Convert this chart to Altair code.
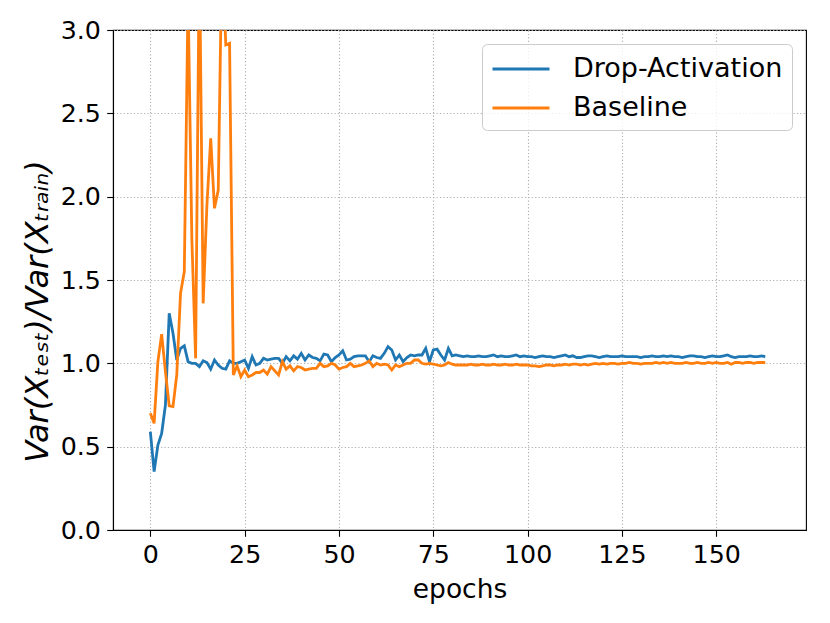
import altair as alt
import pandas as pd

series_names = ["Drop-Activation", "Baseline"]
series_colors = ["#1f77b4", "#ff7f0e"]

drop_activation = [
    0.59, 0.35, 0.51, 0.58, 0.75, 1.30, 1.18, 1.02, 1.09, 1.105,
    1.01, 1.00, 1.00, 0.98, 1.015, 1.005, 0.965, 1.02, 0.99, 0.97,
    0.965, 1.015, 1.00, 1.00, 1.01, 1.02, 0.97, 1.04, 0.99, 1.00,
    1.03, 1.02, 1.025, 1.03, 1.03, 1.00, 1.04, 1.015, 1.045, 1.025,
    1.06, 1.02, 1.05, 1.035, 1.03, 1.015, 1.055, 1.05, 1.01, 1.035,
    1.05, 1.075, 1.02, 1.025, 1.04, 1.045, 1.045, 1.045, 1.01, 1.045,
    1.035, 1.03, 1.06, 1.10, 1.08, 1.02, 1.05, 1.01, 1.035, 1.05,
    1.045, 1.05, 1.05, 1.09, 1.01, 1.08, 1.085, 1.05, 1.02, 1.09,
    1.045, 1.05, 1.045, 1.04, 1.045, 1.04, 1.04, 1.045, 1.04, 1.04,
    1.045, 1.05, 1.04, 1.045, 1.04, 1.04, 1.045, 1.05, 1.04, 1.045,
    1.04, 1.04, 1.035, 1.04, 1.045, 1.04, 1.04, 1.035, 1.04, 1.045,
    1.05, 1.04, 1.045, 1.035, 1.035, 1.04, 1.045, 1.045, 1.04, 1.035,
    1.04, 1.045, 1.04, 1.04, 1.04, 1.045, 1.04, 1.04, 1.04, 1.04,
    1.035, 1.04, 1.04, 1.045, 1.04, 1.04, 1.045, 1.04, 1.045, 1.04,
    1.04, 1.035, 1.04, 1.045, 1.045, 1.04, 1.04, 1.035, 1.04, 1.045,
    1.04, 1.04, 1.045, 1.05, 1.04, 1.035, 1.04, 1.04, 1.04, 1.045,
    1.04, 1.04, 1.045, 1.04,
]

baseline = [
    0.70, 0.64, 1.01, 1.175, 0.95, 0.745, 0.74, 0.93, 1.42, 1.55,
    3.20, 1.75, 1.03, 3.50, 1.36, 1.95, 2.35, 1.93, 2.04, 3.50,
    2.91, 2.92, 0.93, 0.985, 0.92, 0.96, 0.92, 0.93, 0.945, 0.945,
    0.96, 0.935, 0.98, 0.955, 0.93, 1.01, 0.965, 0.985, 0.955, 0.98,
    0.975, 0.96, 0.965, 0.97, 0.97, 1.00, 0.98, 0.985, 1.00, 0.99,
    0.965, 0.975, 0.98, 1.00, 0.98, 0.985, 0.99, 1.00, 1.015, 0.98,
    1.00, 0.99, 0.995, 0.99, 0.96, 0.99, 0.98, 0.99, 1.00, 1.00,
    1.02, 1.02, 1.00, 0.995, 1.00, 0.995, 0.99, 0.985, 0.99, 1.005,
    0.995, 0.99, 0.99, 0.99, 0.99, 0.995, 0.99, 0.99, 0.995, 0.99,
    0.99, 0.995, 0.99, 0.99, 0.995, 0.99, 0.99, 0.995, 0.99, 0.99,
    0.99, 0.985, 0.985, 0.98, 0.985, 0.99, 0.99, 0.985, 0.99, 0.99,
    0.995, 0.99, 0.995, 0.995, 0.99, 0.995, 0.99, 0.995, 1.00, 0.995,
    1.00, 0.995, 1.00, 1.00, 0.995, 1.00, 1.00, 1.005, 1.00, 1.00,
    0.995, 1.00, 1.00, 1.00, 1.005, 1.00, 1.005, 1.00, 1.005, 1.00,
    1.00, 1.00, 1.005, 1.00, 1.00, 1.005, 1.00, 1.00, 1.005, 1.00,
    1.005, 1.00, 1.00, 1.005, 0.995, 1.005, 1.005, 1.00, 1.005, 1.005,
    1.00, 1.005, 1.005, 1.005,
]

x_ticks = [0, 25, 50, 75, 100, 125, 150]
y_ticks = [0.0, 0.5, 1.0, 1.5, 2.0, 2.5, 3.0]

rows = []
for name, vals in zip(series_names, [drop_activation, baseline]):
    for i, v in enumerate(vals):
        rows.append({"epoch": i, "value": v, "series": name})
df = pd.DataFrame(rows)

FONT = "DejaVu Sans"

chart = alt.Chart(df).mark_line(strokeWidth=2.8, clip=True).encode(
    x=alt.X(
        "epoch:Q",
        scale=alt.Scale(domain=[-9.9, 173.8], nice=False, zero=False),
        axis=alt.Axis(
            values=x_ticks, format="d", title="epochs", grid=True,
            labelPadding=6.5, titleY=67, titleBaseline="alphabetic",
        ),
    ),
    y=alt.Y(
        "value:Q",
        scale=alt.Scale(domain=[0, 3], nice=False),
        axis=alt.Axis(
            values=y_ticks, format=".1f", title="Var(Xₜₑₛₜ)/Var(Xₜᵣₐᵢₙ)", grid=True,
            labelPadding=6.3, titleAngle=270, titleX=-66, titleY=281,
            titleBaseline="alphabetic", titleAlign="center",
            titleFontStyle="italic", titleFontSize=32,
        ),
    ),
    color=alt.Color(
        "series:N",
        scale=alt.Scale(domain=series_names, range=series_colors),
        sort=series_names,
        legend=alt.Legend(
            title=None, orient="top-right", offset=14,
            labelFontSize=27, labelFont=FONT, labelColor="black", labelLimit=500,
            symbolType="M-2,0H2", symbolSize=812, symbolStrokeWidth=2.8,
            symbolOffset=14, labelOffset=36,
            padding=9, rowPadding=10,
            strokeColor="#cccccc", fillColor="rgba(255,255,255,0.8)",
            cornerRadius=5,
        ),
    ),
).properties(
    width=693, height=500,
    autosize=alt.AutoSizeParams(type="none"),
    padding={"left": 105, "top": 22, "right": 16, "bottom": 85},
).configure_view(
    stroke="black", strokeWidth=1.1,
).configure_axis(
    labelFont=FONT, labelFontSize=25.3, labelColor="black",
    titleFont=FONT, titleFontSize=26.5, titleColor="black", titleFontWeight="normal",
    domainColor="black", domainWidth=1.1,
    tickColor="black", tickWidth=1.1, tickSize=6.3,
    gridColor="#b0b0b0", gridDash=[1.2, 2.2], gridWidth=1.1,
)

chart.save("out.html", embed_options={"renderer": "svg", "actions": False})
